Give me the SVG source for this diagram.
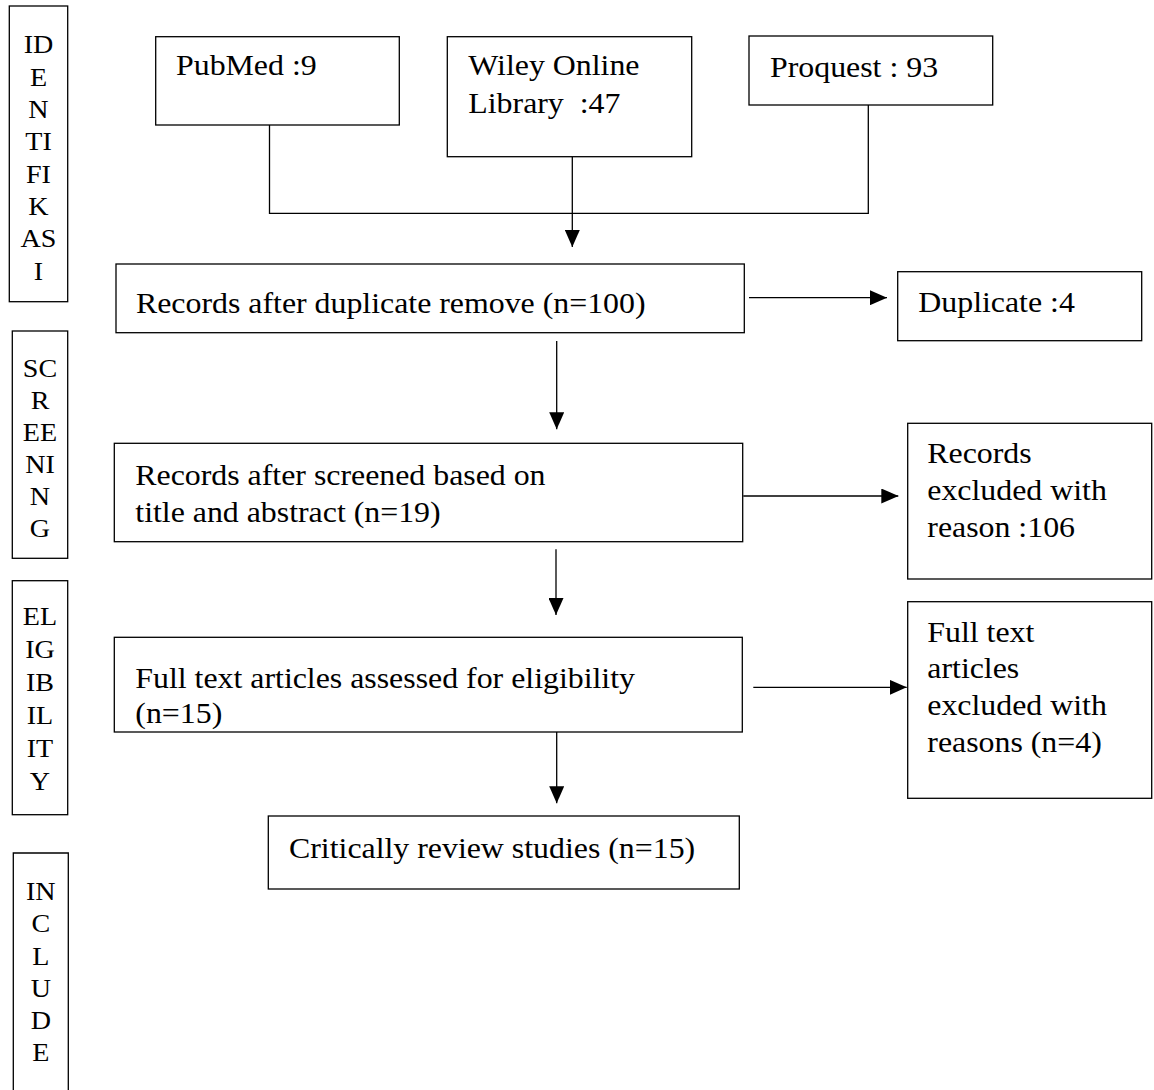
<svg xmlns="http://www.w3.org/2000/svg" width="1154" height="1090" viewBox="0 0 1154 1090">
<style>
.box{fill:#fff;stroke:#000;stroke-width:1.3}
.t{font-family:"Liberation Serif","Times New Roman",serif;font-size:29.5px;fill:#000}
.lab{font-family:"Liberation Serif","Times New Roman",serif;font-size:26px;fill:#000;text-anchor:middle}
.ln{fill:none;stroke:#000;stroke-width:1.3}
</style>
<defs>
<marker id="ah" markerUnits="userSpaceOnUse" markerWidth="17" markerHeight="15" refX="17" refY="7.5" orient="auto">
<path d="M0,0 L17,7.5 L0,15 z" fill="#000"/>
</marker>
</defs>
<rect width="1154" height="1090" fill="#fff"/>

<g id="stage-identifikasi">
<rect class="box" x="9.3" y="6" width="58.4" height="295.7"/>
<text class="lab" transform="translate(38.5,0) scale(1.08,1)"><tspan x="0" y="53">ID</tspan><tspan x="0" y="86">E</tspan><tspan x="0" y="118">N</tspan><tspan x="0" y="150">TI</tspan><tspan x="0" y="183">FI</tspan><tspan x="0" y="215">K</tspan><tspan x="0" y="247">AS</tspan><tspan x="0" y="280">I</tspan></text>
</g>
<g id="stage-screening">
<rect class="box" x="12.3" y="331" width="55.4" height="227.3"/>
<text class="lab" transform="translate(40,0) scale(1.08,1)"><tspan x="0" y="376.7">SC</tspan><tspan x="0" y="408.7">R</tspan><tspan x="0" y="440.7">EE</tspan><tspan x="0" y="472.7">NI</tspan><tspan x="0" y="504.7">N</tspan><tspan x="0" y="536.7">G</tspan></text>
</g>
<g id="stage-eligibility">
<rect class="box" x="12.3" y="580.7" width="55.4" height="234"/>
<text class="lab" transform="translate(40,0) scale(1.08,1)"><tspan x="0" y="625">EL</tspan><tspan x="0" y="658">IG</tspan><tspan x="0" y="691">IB</tspan><tspan x="0" y="724">IL</tspan><tspan x="0" y="757">IT</tspan><tspan x="0" y="790">Y</tspan></text>
</g>
<g id="stage-include">
<path class="ln" d="M13.3,1090 V853 H68.3 V1090"/>
<text class="lab" transform="translate(40.8,0) scale(1.08,1)"><tspan x="0" y="900">IN</tspan><tspan x="0" y="932.3">C</tspan><tspan x="0" y="964.6">L</tspan><tspan x="0" y="996.9">U</tspan><tspan x="0" y="1029.2">D</tspan><tspan x="0" y="1061.5">E</tspan></text>
</g>

<g id="connectors">
<polyline class="ln" points="269.5,125 269.5,213.3 868.3,213.3 868.3,105"/>
<line class="ln" x1="572.3" y1="157" x2="572.3" y2="247" marker-end="url(#ah)"/>
<line class="ln" x1="556.7" y1="341" x2="556.7" y2="429.3" marker-end="url(#ah)"/>
<line class="ln" x1="556" y1="549.3" x2="556" y2="615" marker-end="url(#ah)"/>
<line class="ln" x1="556.7" y1="732" x2="556.7" y2="803.3" marker-end="url(#ah)"/>
<line class="ln" x1="749" y1="297.7" x2="887" y2="297.7" marker-end="url(#ah)"/>
<line class="ln" x1="743.3" y1="496" x2="898.3" y2="496" marker-end="url(#ah)"/>
<line class="ln" x1="753.3" y1="687.3" x2="906.7" y2="687.3" marker-end="url(#ah)"/>
</g>

<g id="pubmed">
<rect class="box" x="155.7" y="36.7" width="243.6" height="88.3"/>
<text class="t" transform="translate(176,75) scale(1.08,1)">PubMed :9</text>
</g>
<g id="wiley">
<rect class="box" x="447.3" y="36.7" width="244.4" height="120"/>
<text class="t" transform="translate(468.3,75) scale(1.08,1)"><tspan x="0" y="0">Wiley Online</tspan><tspan x="0" y="38" xml:space="preserve">Library  :47</tspan></text>
</g>
<g id="proquest">
<rect class="box" x="749" y="36" width="243.7" height="69"/>
<text class="t" transform="translate(770,76.7) scale(1.08,1)">Proquest : 93</text>
</g>
<g id="records-dedup">
<rect class="box" x="116" y="264" width="628.3" height="68.7"/>
<text class="t" transform="translate(136,313.3) scale(1.08,1)">Records after duplicate remove (n=100)</text>
</g>
<g id="duplicate">
<rect class="box" x="897.7" y="271.7" width="244" height="69"/>
<text class="t" transform="translate(918.3,311.7) scale(1.08,1)">Duplicate :4</text>
</g>
<g id="records-screened">
<rect class="box" x="114.3" y="443.3" width="628.4" height="98.4"/>
<text class="t" transform="translate(135.3,485) scale(1.08,1)"><tspan x="0" y="0">Records after screened based on</tspan><tspan x="0" y="36.7">title and abstract (n=19)</tspan></text>
</g>
<g id="records-excluded">
<rect class="box" x="907.7" y="423.3" width="244" height="155.7"/>
<text class="t" transform="translate(927.3,463.3) scale(1.08,1)"><tspan x="0" y="0">Records</tspan><tspan x="0" y="36.7">excluded with</tspan><tspan x="0" y="73.4">reason :106</tspan></text>
</g>
<g id="fulltext-assessed">
<rect class="box" x="114.3" y="637.3" width="628" height="94.7"/>
<text class="t" transform="translate(135.3,688) scale(1.08,1)"><tspan x="0" y="0">Full text articles assessed for eligibility</tspan><tspan x="0" y="35">(n=15)</tspan></text>
</g>
<g id="fulltext-excluded">
<rect class="box" x="907.7" y="601.7" width="244" height="196.6"/>
<text class="t" transform="translate(927.3,641.7) scale(1.08,1)"><tspan x="0" y="0">Full text</tspan><tspan x="0" y="36.7">articles</tspan><tspan x="0" y="73.4">excluded with</tspan><tspan x="0" y="110.1">reasons (n=4)</tspan></text>
</g>
<g id="critically-review">
<rect class="box" x="268.3" y="816" width="471" height="73"/>
<text class="t" transform="translate(289,858) scale(1.08,1)">Critically review studies (n=15)</text>
</g>
</svg>
